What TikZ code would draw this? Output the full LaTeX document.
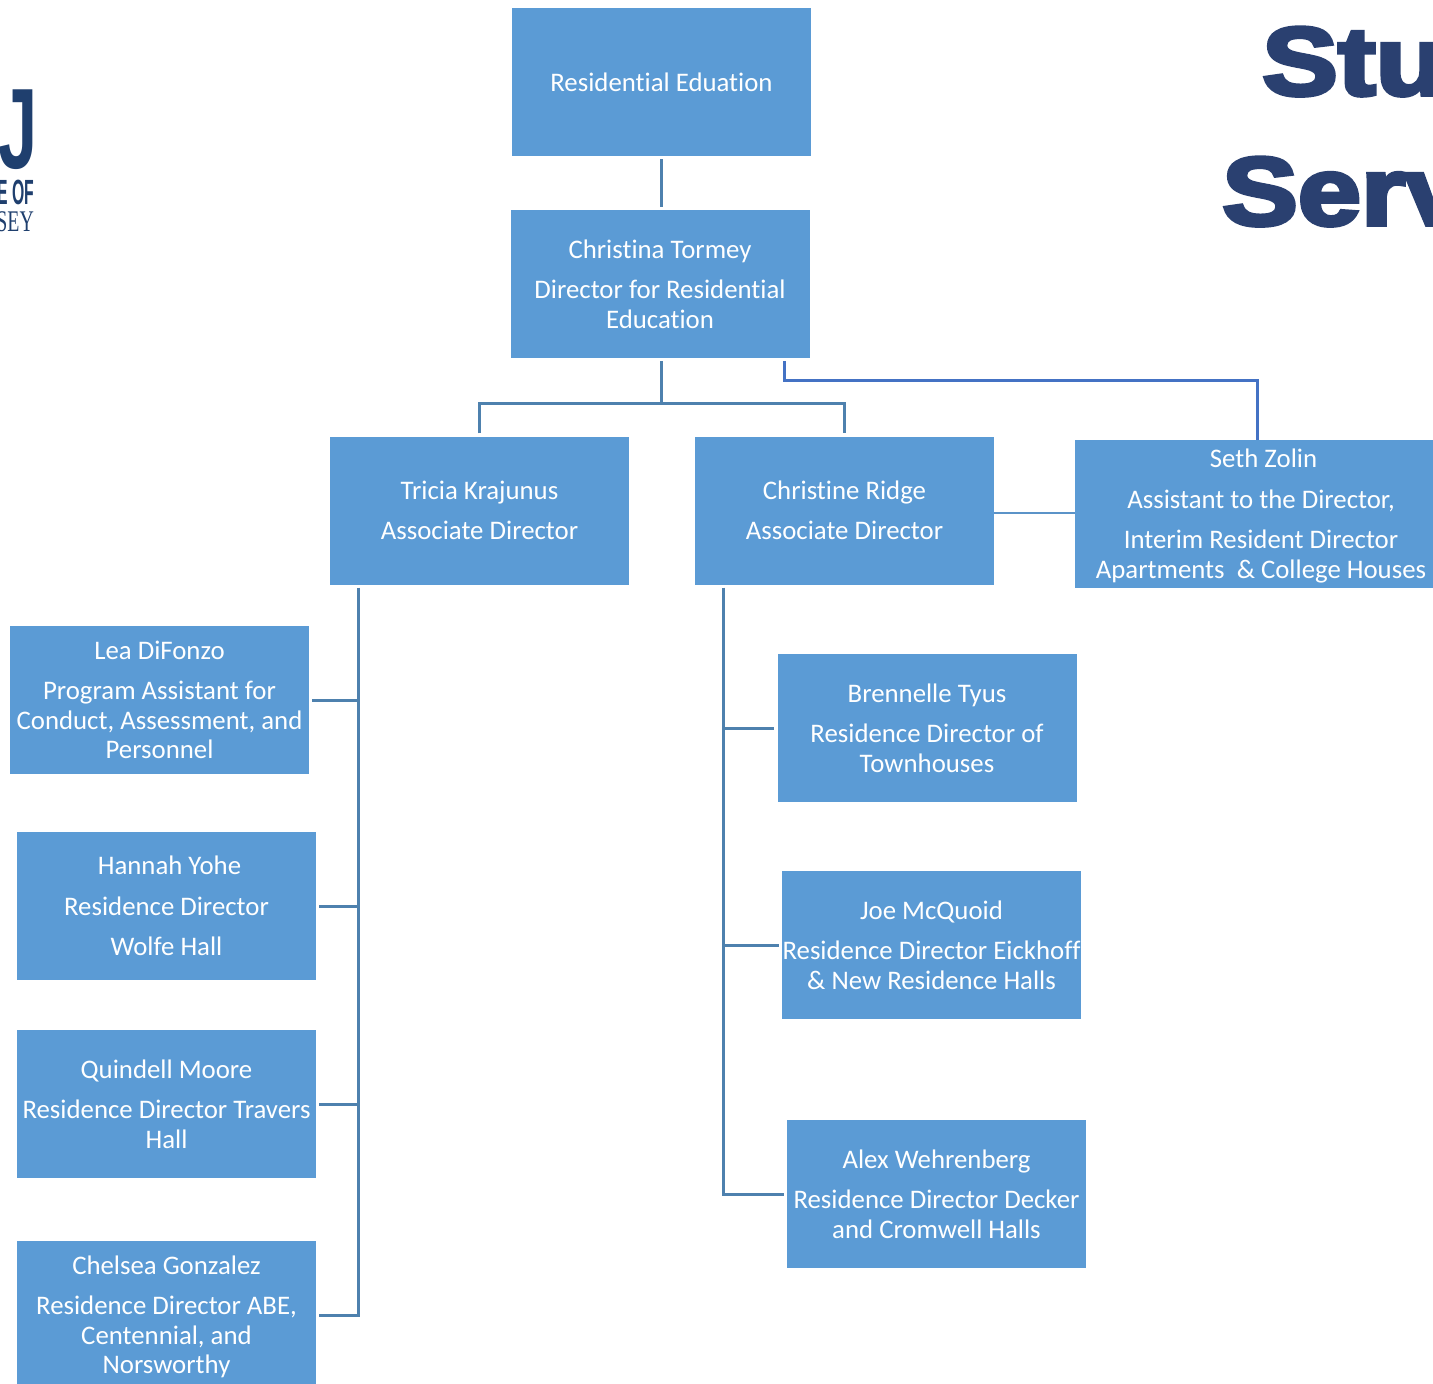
\documentclass[tikz,border=0pt]{standalone}
\usepackage{fontspec}
\setmainfont[Ligatures=NoCommon]{Carlito}
\newfontfamily\headfont[BoldFeatures={FakeBold=4}]{Liberation Sans}
\newfontfamily\logofont{Liberation Sans}
\newfontfamily\logoserif{Liberation Serif}
\definecolor{boxblue}{HTML}{5B9BD5}
\definecolor{linksteel}{HTML}{4E81AE}
\definecolor{linkroyal}{HTML}{4472C4}
\definecolor{linkpale}{HTML}{5B93C8}
\definecolor{headnavy}{HTML}{2A4070}
\definecolor{logonavy}{HTML}{1F3F6E}
\tikzset{
  box/.style={fill=boxblue,text=white,inner sep=0pt,minimum width=299pt,minimum height=148pt,
    align=center,font=\fontsize{26.8}{29.5}\selectfont},
  link/.style={draw=linksteel,line width=3pt},
  head/.style={text=headnavy,inner sep=0pt,anchor=base west,xscale=1.17,font=\headfont\bfseries\fontsize{97}{97}\selectfont},
}

\begin{document}
\begin{tikzpicture}[x=1pt,y=-1pt]
         \useasboundingbox (0,0) rectangle (1433,1384) ;
         \clip (0,0) rectangle (1433,1384) ;
         % logo and heading, both cut by the page edge
         \node[text=logonavy,inner sep=0pt,anchor=base east,xscale=0.64,yscale=1.04,font=\logofont\bfseries\fontsize{110}{110}\selectfont] (logoj) at (37.5,168) {J} ;
         \node[text=logonavy,inner sep=0pt,anchor=base east,xscale=0.45,font=\logofont\bfseries\fontsize{35}{35}\selectfont] (logoof) at (34.5,204) {E OF} ;
         \node[text=logonavy,inner sep=0pt,anchor=base east,xscale=0.66,font=\logoserif\fontsize{30}{30}\selectfont] (logosey) at (34,231) {SEY} ;
         \node[head] (headone) at (1262,95) {Stu} ;
         \node[head] (headtwo) at (1222,225) {Serv} ;
         % boxes
         \node[box] (edu) at (661.5,82) {Residential Eduation} ;
         \node[box] (tormey) at (660,284) {Christina Tormey\\[11pt]Director for Residential\\Education} ;
         \node[box] (tricia) at (479.5,510.5) {Tricia Krajunus\\[11pt]Associate Director} ;
         \node[box] (ridge) at (844.5,510.5) {Christine Ridge\\[11pt]Associate Director} ;
         \node[box,minimum width=372pt] (seth) at (1261,514) {\hspace*{5pt}\rule{0pt}{22pt}Seth Zolin\\[11.5pt]Assistant to the Director,\\[11pt]Interim Resident Director\\Apartments~~\& College Houses} ;
         \node[box] (lea) at (159.5,700) {Lea DiFonzo\\[11pt]Program Assistant for\\Conduct, Assessment, and\\Personnel} ;
         \node[box] (hannah) at (166.5,906) {\hspace*{6pt}Hannah Yohe\\[11pt]Residence Director\\[11pt]Wolfe Hall} ;
         \node[box] (quindell) at (166.5,1104) {Quindell Moore\\[11pt]Residence Director Travers\\Hall} ;
         \node[box,minimum height=152pt] (chelsea) at (166.5,1317) {Chelsea Gonzalez\\[11pt]Residence Director ABE,\\Centennial, and\\Norsworthy} ;
         \node[box] (brennelle) at (927,728) {Brennelle Tyus\\[11pt]Residence Director of\\Townhouses} ;
         \node[box] (joe) at (931.5,945) {Joe McQuoid\\[11pt]Residence Director Eickhoff\\\& New Residence Halls} ;
         \node[box] (alex) at (936.5,1194) {Alex Wehrenberg\\[11pt]Residence Director Decker\\and Cromwell Halls} ;
         % connectors stop a little short of the boxes
         \coordinate (split) at (661.5,403) ;
         \coordinate (trunkleft) at ([xshift=28.5pt]tricia.south west) ;
         \coordinate (trunkright) at ([xshift=28.5pt]ridge.south west) ;
         \draw[link,shorten <=3pt,shorten >=3pt] (edu.south) -- (edu.south |- tormey.north) ;
         \draw[link,shorten <=3pt] (edu.south |- tormey.south) -- (split) ;
         \draw[link,shorten <=3pt,shorten >=3pt] (tricia.north) |- (split) -| (ridge.north) ;
         \draw[link,draw=linkroyal,shorten <=3pt] ([xshift=-25.5pt]tormey.south east) -- ++(0,22) -| ([xshift=182.5pt]seth.north west) ;
         \draw[link,draw=linkpale,line width=2pt] ([yshift=1pt]seth.west -| ridge.east) -- ([yshift=1pt]seth.west) ;
         \draw[link,shorten <=3pt,shorten >=3pt] (trunkleft) |- ([yshift=2pt]chelsea.east) ;
         \draw[link,shorten >=3pt] (lea.east -| trunkleft) -- (lea.east) ;
         \draw[link,shorten >=3pt] (hannah.east -| trunkleft) -- (hannah.east) ;
         \draw[link,shorten >=3pt] (quindell.east -| trunkleft) -- (quindell.east) ;
         \draw[link,shorten <=3pt,shorten >=3pt] (trunkright) |- (alex.west) ;
         \draw[link,shorten >=3pt] (brennelle.west -| trunkright) -- (brennelle.west) ;
         \draw[link,shorten >=3pt] (joe.west -| trunkright) -- (joe.west) ;
      \end{tikzpicture}
\end{document}
